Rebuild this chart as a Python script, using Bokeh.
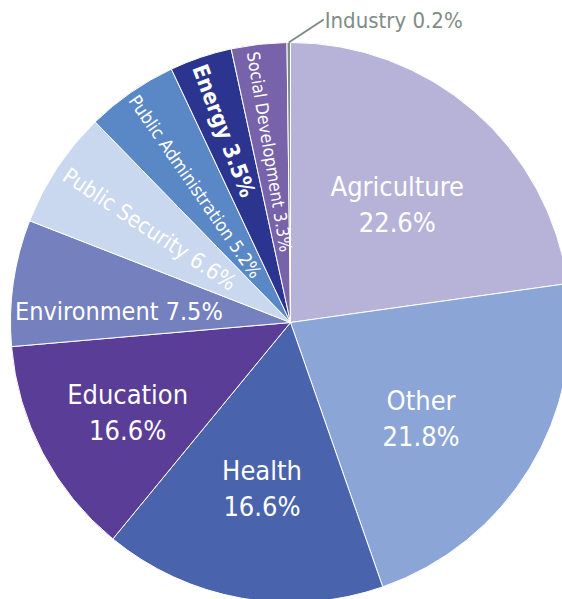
import math
from bokeh.plotting import figure
from bokeh.models import Range1d, ColumnDataSource
from bokeh.core.properties import value
from bokeh.embed import file_html
from bokeh.resources import INLINE

# ---- data ----
sectors = ["Agriculture", "Other", "Health", "Education", "Environment",
           "Public Security", "Public Administration", "Energy",
           "Social Development", "Industry"]
shares = [22.8, 21.9, 16.3, 12.7, 7.3, 6.8, 5.3, 3.6, 3.2, 0.2]
pct_labels = ["22.6%", "21.8%", "16.6%", "16.6%", "7.5%", "6.6%", "5.2%",
              "3.5%", "3.3%", "0.2%"]
colors = ["#b7b2d8", "#8ba5d6", "#4a63ad", "#5a3d96", "#7580be",
          "#c9d7ef", "#5a88c6", "#2b3590", "#7862aa", "#7f8c86"]

# ---- layout ----
W, H = 562, 599
CX, CY, R = 290, 277, 280
FONT = "'DejaVu Sans Condensed', 'Liberation Sans Narrow', 'Roboto', sans-serif"

p = figure(width=W, height=H, output_backend="svg", toolbar_location=None,
           x_range=Range1d(0, W), y_range=Range1d(0, H), min_border=0)
p.axis.visible = False
p.grid.visible = False
p.outline_line_color = None
p.background_fill_color = "white"

total = sum(shares)
starts, ends, mids = [], [], []
cum = 0.0
for s in shares:
    a0 = math.pi / 2 - 2 * math.pi * cum / total
    cum += s
    a1 = math.pi / 2 - 2 * math.pi * cum / total
    starts.append(a0)
    ends.append(a1)
    mids.append((a0 + a1) / 2)

src = ColumnDataSource(dict(start=starts, end=ends, color=colors, name=sectors))
p.wedge(x=CX, y=CY, radius=R, start_angle="start", end_angle="end",
        direction="clock", fill_color="color", line_color="white",
        line_width=1, source=src)

# horizontal two-line labels: (index, radius, angle shift deg, font size)
two_line = [(0, 159, -1.2, 27), (1, 162, -4.9, 27), (2, 168, 0.3, 27),
            (3, 186, 1.1, 27)]
for i, r, dang, fs in two_line:
    a = mids[i] + math.radians(dang)
    x = CX + r * math.cos(a)
    y = CY + r * math.sin(a)
    p.text(x=[x], y=[y + 18], text=[sectors[i]], text_align="center",
           text_baseline="middle", text_color="white",
           text_font=value(FONT), text_font_size=f"{fs}px")
    p.text(x=[x], y=[y - 18], text=[pct_labels[i]], text_align="center",
           text_baseline="middle", text_color="white",
           text_font=value(FONT), text_font_size=f"{fs}px")

# Environment single line horizontal
a = mids[4] + math.radians(4.5)
p.text(x=[CX + 172 * math.cos(a)], y=[CY + 172 * math.sin(a)],
       text=[f"{sectors[4]} {pct_labels[4]}"], text_align="center",
       text_baseline="middle", text_color="white",
       text_font=value(FONT), text_font_size="25px")

# radial labels: (index, radius, pos shift deg, rot shift deg, size, style)
radial = [(5, 169, 0.0, 0.0, 22, "normal"), (6, 166, 0.3, 0.0, 18, "normal"),
          (7, 203, 0.5, 2.0, 22, "bold"), (8, 172, 0.6, 3.0, 17.5, "normal")]
for i, r, dang, drot, fs, st in radial:
    a = mids[i] + math.radians(dang)
    x = CX + r * math.cos(a)
    y = CY + r * math.sin(a)
    p.text(x=[x], y=[y], text=[f"{sectors[i]} {pct_labels[i]}"],
           angle=mids[i] - math.pi + math.radians(drot), text_align="center",
           text_baseline="middle", text_color="white",
           text_font=value(FONT), text_font_size=f"{fs}px",
           text_font_style=st)

# Industry callout
a = mids[9]
ex, ey = CX + R * math.cos(a), CY + R * math.sin(a)
p.line(x=[ex, ex + 35], y=[ey, ey + 23], line_color="#7f8c86", line_width=2)
p.text(x=[ex + 36], y=[ey + 22], text=[f"{sectors[9]} {pct_labels[9]}"],
       text_align="left", text_baseline="middle", text_color="#7f8c86",
       text_font=value(FONT), text_font_size="22px")

open("out.html", "w").write(file_html(p, INLINE))
